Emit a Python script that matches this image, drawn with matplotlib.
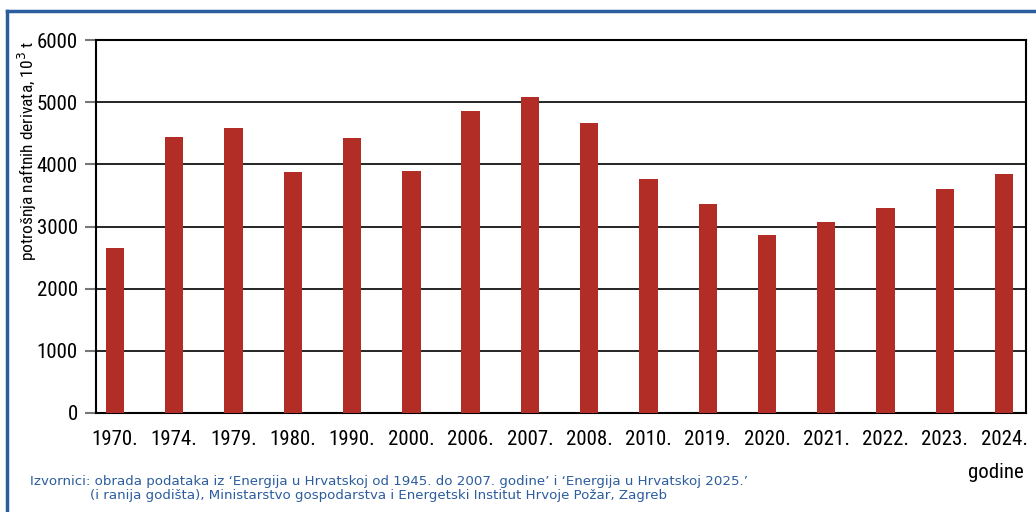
import matplotlib
matplotlib.use("Agg")
import matplotlib.pyplot as plt
from matplotlib import font_manager
from matplotlib.font_manager import FontProperties
from matplotlib.lines import Line2D

years = ["1970.", "1974.", "1979.", "1980.", "1990.", "2000.", "2006.", "2007.",
         "2008.", "2010.", "2019.", "2020.", "2021.", "2022.", "2023.", "2024."]
values = [2650, 4440, 4585, 3875, 4420, 3890, 4855, 5085,
          4665, 3765, 3365, 2865, 3070, 3300, 3600, 3845]
yticks = [0, 1000, 2000, 3000, 4000, 5000, 6000]

# find a condensed / narrow font if any is installed
cond_file = None
prefs = ["robotocondensed-regular", "dejavusanscondensed.ttf", "liberationsansnarrow-regular",
         "opensans_condensed-regular", "opensans-condensedregular"]
files = [f.fname for f in font_manager.fontManager.ttflist]
for p in prefs:
    for fn in files:
        if p in fn.lower().replace(" ", ""):
            cond_file = fn
            break
    if cond_file:
        break
if cond_file is None:
    for f in font_manager.fontManager.ttflist:
        n = f.fname.lower()
        if ("condensed" in n or "narrow" in n) and "bold" not in n and "oblique" not in n \
                and "italic" not in n and "light" not in n:
            cond_file = f.fname
            break

def fp(size):
    if cond_file:
        return FontProperties(fname=cond_file, size=size)
    return FontProperties(family="DejaVu Sans", size=size * 0.8)

bar_color = "#b22d26"
blue = "#2c5d9e"

fig = plt.figure(figsize=(10.36, 5.12), dpi=100)
ax = fig.add_axes([96/1036, 1-413/512, (1026-96)/1036, (413-40)/512])

x = list(range(len(years)))
ax.bar(x, values, width=0.31, color=bar_color, zorder=3)
ax.set_xlim(-0.32, 15.37)
ax.set_ylim(0, 6000)
ax.set_yticks(yticks)
ax.set_yticklabels([str(v) for v in yticks], fontproperties=fp(15))
ax.set_xticks(x)
ax.set_xticklabels(years, fontproperties=fp(15))
ax.tick_params(axis="x", length=0, pad=12)
ax.tick_params(axis="y", length=8, width=1.5, color="#777777", pad=5)
ax.yaxis.grid(True, color="black", linewidth=1.2, zorder=1)
for s in ax.spines.values():
    s.set_color("black")
    s.set_linewidth(1.5)

fig.text(27/1036, 1-151/512, "potrošnja naftnih derivata, 10$^3$ t", rotation=90,
         ha="center", va="center", fontproperties=fp(12.5))

fig.text(1024/1036, 1-473/512, "godine", ha="right", va="center", fontproperties=fp(15))
fig.text(30/1036, 1-482/512, "Izvornici: obrada podataka iz \u2018Energija u Hrvatskoj od 1945. do 2007. godine\u2019 i \u2018Energija u Hrvatskoj 2025.\u2019",
         ha="left", va="center", color=blue, fontfamily="DejaVu Sans", fontsize=9.6)
fig.text(90/1036, 1-496/512, "(i ranija godišta), Ministarstvo gospodarstva i Energetski Institut Hrvoje Požar, Zagreb",
         ha="left", va="center", color=blue, fontfamily="DejaVu Sans", fontsize=9.6)

fig.add_artist(Line2D([7/1036, 1.0], [1-11/512, 1-11/512], color=blue, linewidth=2.5, transform=fig.transFigure))
fig.add_artist(Line2D([7/1036, 7/1036], [1-11/512, 0], color=blue, linewidth=2.5, transform=fig.transFigure))

fig.savefig("out.png", dpi=100)
